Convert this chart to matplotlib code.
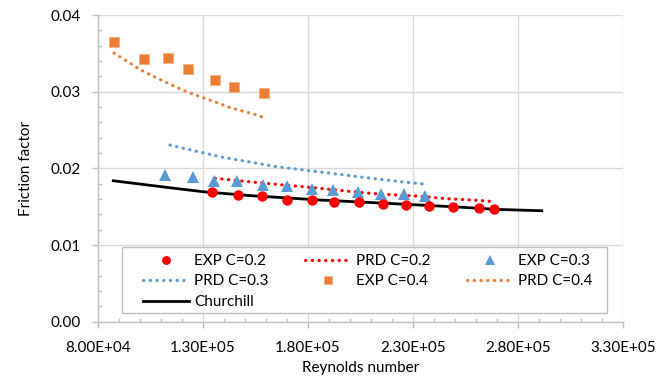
import numpy as np
import matplotlib
matplotlib.use("Agg")
import matplotlib.pyplot as plt
from matplotlib.patches import Rectangle
from matplotlib.ticker import MultipleLocator, FuncFormatter

plt.rcParams['font.family'] = ['Lato', 'DejaVu Sans']

# ---- Measured friction factor (EXP) ----
re_exp_02 = [134200, 146900, 158200, 169900, 181800, 192200, 204200,
             215900, 226800, 237500, 248900, 261200, 268500]
f_exp_02 = [0.01691, 0.01652, 0.01635, 0.01587, 0.01583, 0.01565, 0.01557,
            0.01531, 0.01525, 0.01512, 0.01499, 0.01486, 0.01465]

re_exp_03 = [111900, 125200, 135300, 146100, 158800, 169900, 181800,
             192100, 204000, 214900, 225900, 235800]
f_exp_03 = [0.01913, 0.01883, 0.01834, 0.01838, 0.01786, 0.01769, 0.01726,
            0.01721, 0.01694, 0.01671, 0.01669, 0.01635]

re_exp_04 = [87750, 102000, 113600, 122800, 135700, 144700, 159000]
f_exp_04 = [0.03651, 0.03421, 0.03434, 0.03291, 0.03155, 0.03060, 0.02982]

# ---- Predicted friction factor (PRD) ----
re_prd_02 = [135800, 152400, 165200, 181000, 196800, 211100, 231700,
             246000, 258700, 269000]
f_prd_02 = [0.01870, 0.01825, 0.01791, 0.01752, 0.01708, 0.01671, 0.01639,
            0.01604, 0.01587, 0.01565]

re_prd_03 = [114400, 124500, 138200, 151600, 165200, 181000, 193700,
             206300, 217500, 227000, 235700]
f_prd_03 = [0.02304, 0.02239, 0.02151, 0.02086, 0.02021, 0.01969, 0.01926,
            0.01883, 0.01847, 0.01817, 0.01795]

re_prd_04 = [87750, 93800, 99500, 105500, 111500, 117200, 123600, 130200,
             136300, 142600, 149000, 155300, 158300]
f_prd_04 = [0.03503, 0.03399, 0.03299, 0.03213, 0.03134, 0.03060, 0.02986,
            0.02921, 0.02861, 0.02795, 0.02747, 0.02699, 0.02669]

# ---- Churchill correlation ----
re_church = [87400, 114400, 130200, 152400, 185700, 217500, 249200,
             269800, 291200]
f_church = [0.01838, 0.01747, 0.01695, 0.01645, 0.01587, 0.01544, 0.01499,
            0.01465, 0.01447]

RED = '#ff0000'
BLUE = '#5b9bd5'
ORANGE = '#ed7d31'
GRID = '#d9d9d9'
AXC = '#bfbfbf'
FS = 11

dot = dict(linestyle=(0, (0.1, 2.0)), lw=2.3, dash_capstyle='round')

fig = plt.figure(figsize=(6.67, 3.76), dpi=100)
ax = fig.add_axes([0.1465, 0.1444, 0.788, 0.8157])

h_prd04, = ax.plot(re_prd_04, f_prd_04, color=ORANGE, label='PRD C=0.4', **dot)
h_prd03, = ax.plot(re_prd_03, f_prd_03, color=BLUE, label='PRD C=0.3', **dot)
h_ch, = ax.plot(re_church, f_church, color='black', lw=2.0, label='Churchill')
h_prd02, = ax.plot(re_prd_02, f_prd_02, color=RED, label='PRD C=0.2', **dot)
h_exp04, = ax.plot(re_exp_04, f_exp_04, 's', color=ORANGE, ms=7,
                   mec='#f4b183', mew=0.6, label='EXP C=0.4')
h_exp03, = ax.plot(re_exp_03, f_exp_03, '^', color=BLUE, ms=8, mew=0,
                   label='EXP C=0.3')
h_exp02, = ax.plot(re_exp_02, f_exp_02, 'o', color=RED, ms=7.5, mew=0,
                   label='EXP C=0.2')

ax.set_xlim(80000, 330000)
ax.set_ylim(0, 0.04)
ax.xaxis.set_major_locator(MultipleLocator(50000, offset=30000))
ax.xaxis.set_minor_locator(MultipleLocator(10000))
ax.yaxis.set_major_locator(MultipleLocator(0.01))
ax.yaxis.set_minor_locator(MultipleLocator(0.002))
ax.xaxis.set_major_formatter(FuncFormatter(lambda v, p: f'{v:.2E}'))
ax.yaxis.set_major_formatter(FuncFormatter(lambda v, p: f'{v:.2f}'))

ax.grid(True, which='major', color=GRID, lw=1.0)
ax.set_axisbelow(True)
for s in ['top', 'right']:
    ax.spines[s].set_visible(False)
for s in ['left', 'bottom']:
    ax.spines[s].set_color(AXC)
    ax.spines[s].set_linewidth(1.0)

ax.tick_params(which='major', direction='out', length=4, width=1, color=AXC,
               labelsize=FS, labelcolor='black')
ax.tick_params(which='minor', direction='in', length=3, width=1, color=AXC)
ax.tick_params(axis='y', which='major', pad=8)
ax.tick_params(axis='x', which='major', pad=10)

ax.set_xlabel('Reynolds number', fontsize=FS, labelpad=4)
ax.set_ylabel('Friction factor', fontsize=FS, labelpad=13)

# legend box drawn separately so the entries get a wider left margin
ax.add_patch(Rectangle((0.0457, 0.0293), 0.9228, 0.2132, transform=ax.transAxes,
                       facecolor='white', edgecolor=AXC, lw=1.0, zorder=4.5))

# entries filled row by row, matplotlib fills columns first
handles = [h_exp02, h_prd03, h_ch, h_prd02, h_exp04, h_exp03, h_prd04]
leg = ax.legend(handles=handles, labels=[h.get_label() for h in handles],
                ncol=3, loc='upper left', bbox_to_anchor=(0.0856, 0.2207),
                fontsize=FS, frameon=False, borderaxespad=0, borderpad=0,
                handlelength=3.05, handletextpad=0.33, columnspacing=2.35,
                labelspacing=0.42, markerscale=0.85)

fig.savefig('out.png', dpi=100)
